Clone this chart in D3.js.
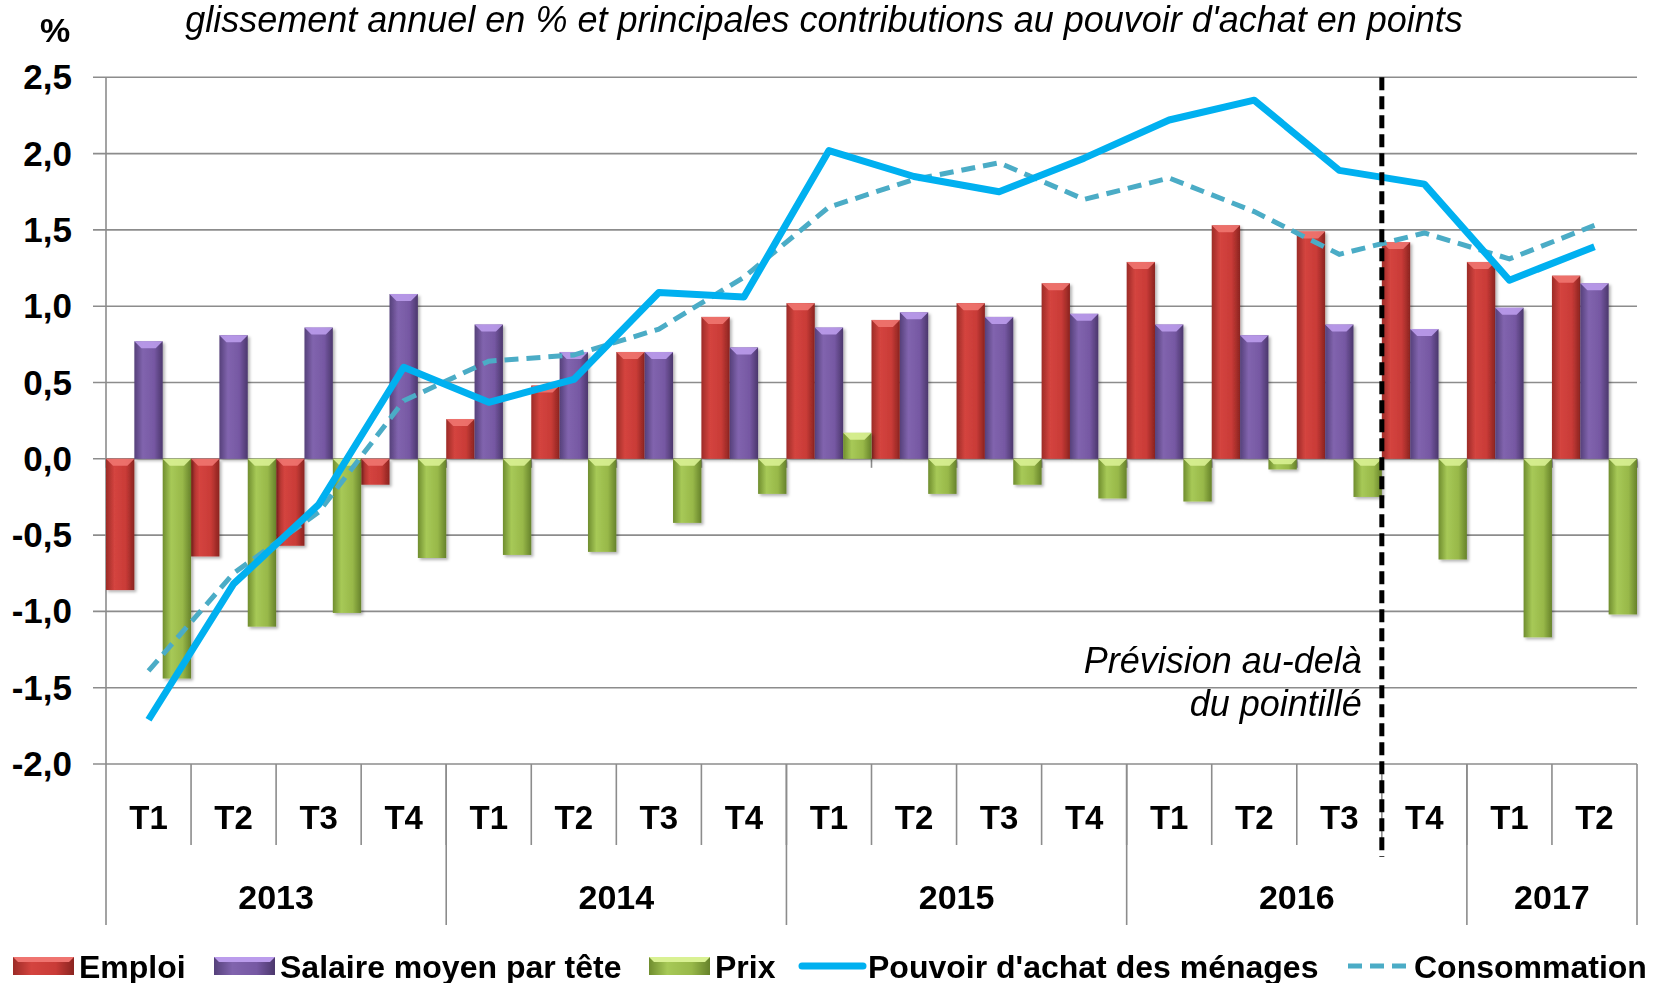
<!DOCTYPE html>
<html>
<head>
  <meta charset="utf-8">
  <script src="https://cdn.jsdelivr.net/npm/d3@7"></script>
  <title>Pouvoir d'achat</title>
  <style>
    body { margin: 0; background: #fff; }
    text { font-family: "Liberation Sans", Arial, sans-serif; fill: #000; }
    .tick-lbl { font-size: 35px; font-weight: bold; }
    .cat-lbl { font-size: 33px; font-weight: bold; }
    .year-lbl { font-size: 34px; font-weight: bold; }
    .legend-lbl { font-size: 32px; font-weight: bold; }
  </style>
</head>
<body>
<svg id="chart" width="1654" height="983"></svg>
<script>
// quarters, 2013 T1 .. 2017 T2
var quarters = ["T1","T2","T3","T4","T1","T2","T3","T4","T1","T2","T3","T4","T1","T2","T3","T4","T1","T2"];
var years = ["2013","2014","2015","2016","2017"];
var yearLength = [4, 4, 4, 4, 2];

var emploi   = [-0.86,-0.64,-0.57,-0.17, 0.26, 0.48, 0.70, 0.93, 1.02, 0.91, 1.02, 1.15, 1.29, 1.53, 1.49, 1.42, 1.29, 1.20];
var salaire  = [ 0.77, 0.81, 0.86, 1.08, 0.88, 0.70, 0.70, 0.73, 0.86, 0.96, 0.93, 0.95, 0.88, 0.81, 0.88, 0.85, 0.99, 1.15];
var prix     = [-1.44,-1.10,-1.01,-0.65,-0.63,-0.61,-0.42,-0.23, 0.17,-0.23,-0.17,-0.26,-0.28,-0.07,-0.25,-0.66,-1.17,-1.02];
var pouvoir  = [-1.71,-0.82,-0.30, 0.60, 0.37, 0.52, 1.09, 1.06, 2.02, 1.85, 1.75, 1.97, 2.22, 2.35, 1.89, 1.80, 1.17, 1.39];
var conso    = [-1.39,-0.75,-0.35, 0.38, 0.64, 0.68, 0.85, 1.19, 1.65, 1.83, 1.94, 1.70, 1.84, 1.62, 1.34, 1.48, 1.31, 1.53];

var yTicks = [-2, -1.5, -1, -0.5, 0, 0.5, 1, 1.5, 2, 2.5];
var forecastStart = 15; // 2016 T4

var svg = d3.select("#chart");
var plotL = 106, plotR = 1637, plotT = 77.3, plotB = 764;

var idx = d3.range(quarters.length);
var x = d3.scaleBand().domain(idx).range([plotL, plotR]).padding(0);
var y = d3.scaleLinear().domain([-2, 2.5]).range([plotB, plotT]);

var fmt = function(v) { return d3.format(".1f")(v).replace(".", ",").replace("−", "-"); };

// gradients for the bevelled bars
var series = [
  {name: "Emploi", values: emploi, stops: ["#9c2b27","#d4443f","#c93b37","#8a2420"], bevel: "#ef7470"},
  {name: "Salaire moyen par tête", values: salaire, stops: ["#55407a","#8164ae","#7658a3","#4b376c"], bevel: "#bb9cec"},
  {name: "Prix", values: prix, stops: ["#6f8d2e","#a7c957","#98b849","#66822a"], bevel: "#d9f193"}
];
var defs = svg.append("defs");
series.forEach(function(s, i) {
  var g = defs.append("linearGradient").attr("id", "grad" + i).attr("x1", "0").attr("x2", "1").attr("y1", "0").attr("y2", "0");
  [0, 0.3, 0.7, 1].forEach(function(o, j) {
    g.append("stop").attr("offset", o).attr("stop-color", s.stops[j]);
  });
});
var f = defs.append("filter").attr("id", "shadow").attr("x", "-20%").attr("y", "-20%").attr("width", "140%").attr("height", "140%");
f.append("feDropShadow").attr("dx", 2).attr("dy", 2).attr("stdDeviation", 1.5).attr("flood-color", "#000").attr("flood-opacity", 0.3);

// gridlines + y axis
svg.append("g").selectAll("line").data(yTicks).join("line")
  .attr("x1", plotL - 13).attr("x2", plotR)
  .attr("y1", function(d) { return y(d); }).attr("y2", function(d) { return y(d); })
  .attr("stroke", "#8c8c8c").attr("stroke-width", 1.6);
svg.append("line").attr("x1", plotL).attr("x2", plotL).attr("y1", plotT).attr("y2", 925)
  .attr("stroke", "#8c8c8c").attr("stroke-width", 1.6);
svg.append("g").selectAll("text").data(yTicks).join("text")
  .attr("class", "tick-lbl").attr("text-anchor", "end")
  .attr("x", 72).attr("y", function(d) { return y(d) + 12; })
  .text(fmt);

// small ticks on the zero line
svg.append("g").selectAll("line").data(d3.range(quarters.length + 1)).join("line")
  .attr("x1", function(i) { return plotL + i * x.bandwidth(); })
  .attr("x2", function(i) { return plotL + i * x.bandwidth(); })
  .attr("y1", y(0)).attr("y2", y(0) + 9)
  .attr("stroke", "#8c8c8c").attr("stroke-width", 1.6);

// bars
var inner = d3.scaleBand().domain([0, 1, 2]).range([0, x.bandwidth()]).padding(0);
series.forEach(function(s, si) {
  var g = svg.append("g").attr("filter", "url(#shadow)");
  s.values.forEach(function(v, i) {
    var bx = x(i) + inner(si), bw = inner.bandwidth();
    var y0 = Math.min(y(v), y(0)), h = Math.abs(y(v) - y(0));
    g.append("rect").attr("x", bx).attr("y", y0).attr("width", bw).attr("height", h)
      .attr("fill", "url(#grad" + si + ")");
    var b = Math.min(7, h / 2);
    g.append("polygon")
      .attr("points", [[bx, y0], [bx + bw, y0], [bx + bw - b, y0 + b], [bx + b, y0 + b]].join(" "))
      .attr("fill", s.bevel).attr("opacity", 0.9);
  });
});

// lines
var line = d3.line().x(function(d, i) { return x(i) + x.bandwidth() / 2; }).y(function(d) { return y(d); });
svg.append("path").datum(conso).attr("d", line).attr("fill", "none")
  .attr("stroke", "#4bacc6").attr("stroke-width", 5).attr("stroke-dasharray", "14,8");
svg.append("path").datum(pouvoir).attr("d", line).attr("fill", "none")
  .attr("stroke", "#00b0f0").attr("stroke-width", 7).attr("stroke-linejoin", "round");

// category axis: quarter and year cells
svg.append("g").selectAll("line").data(d3.range(1, quarters.length)).join("line")
  .attr("x1", function(i) { return plotL + i * x.bandwidth(); })
  .attr("x2", function(i) { return plotL + i * x.bandwidth(); })
  .attr("y1", plotB).attr("y2", 845)
  .attr("stroke", "#8c8c8c").attr("stroke-width", 1.6);
var yearEdges = d3.cumsum(yearLength);
svg.append("g").selectAll("line").data(yearEdges).join("line")
  .attr("x1", function(n) { return plotL + n * x.bandwidth(); })
  .attr("x2", function(n) { return plotL + n * x.bandwidth(); })
  .attr("y1", plotB).attr("y2", 925)
  .attr("stroke", "#8c8c8c").attr("stroke-width", 1.6);
svg.append("g").selectAll("text").data(quarters).join("text")
  .attr("class", "cat-lbl").attr("text-anchor", "middle")
  .attr("x", function(d, i) { return x(i) + x.bandwidth() / 2; }).attr("y", 829)
  .text(function(d) { return d; });
svg.append("g").selectAll("text").data(years).join("text")
  .attr("class", "year-lbl").attr("text-anchor", "middle")
  .attr("x", function(d, i) {
    var start = i ? yearEdges[i - 1] : 0;
    return plotL + (start + yearLength[i] / 2) * x.bandwidth();
  })
  .attr("y", 909)
  .text(function(d) { return d; });

// forecast separator
var fx = x(forecastStart);
svg.append("line").attr("x1", fx).attr("x2", fx).attr("y1", plotT).attr("y2", 857)
  .attr("stroke", "#000").attr("stroke-width", 5).attr("stroke-dasharray", "13,6");
svg.append("text").attr("text-anchor", "end").attr("x", fx - 20).attr("y", 673)
  .style("font-size", "36px").style("font-style", "italic").text("Prévision au-delà");
svg.append("text").attr("text-anchor", "end").attr("x", fx - 20).attr("y", 716)
  .style("font-size", "36px").style("font-style", "italic").text("du pointillé");

// titles
svg.append("text").attr("x", 55).attr("y", 42).attr("text-anchor", "middle")
  .style("font-size", "34px").style("font-weight", "bold").text("%");
svg.append("text").attr("x", 824).attr("y", 32).attr("text-anchor", "middle")
  .style("font-size", "36px").style("font-style", "italic")
  .text("glissement annuel en % et principales contributions au pouvoir d'achat en points");

// legend
var legend = [
  {label: "Emploi", type: "bar", s: 0, x: 13},
  {label: "Salaire moyen par tête", type: "bar", s: 1, x: 214},
  {label: "Prix", type: "bar", s: 2, x: 649},
  {label: "Pouvoir d'achat des ménages", type: "line", x: 802},
  {label: "Consommation", type: "dash", x: 1348}
];
var ly = 966;
legend.forEach(function(d) {
  var g = svg.append("g");
  if (d.type == "bar") {
    g.append("rect").attr("x", d.x).attr("y", ly - 9).attr("width", 61).attr("height", 18)
      .attr("fill", "url(#grad" + d.s + ")");
    g.append("polygon")
      .attr("points", [[d.x, ly - 9], [d.x + 61, ly - 9], [d.x + 56, ly - 4], [d.x + 5, ly - 4]].join(" "))
      .attr("fill", series[d.s].bevel);
  } else if (d.type == "line") {
    g.append("line").attr("x1", d.x).attr("x2", d.x + 61).attr("y1", ly).attr("y2", ly)
      .attr("stroke", "#00b0f0").attr("stroke-width", 7).attr("stroke-linecap", "round");
  } else {
    g.append("line").attr("x1", d.x).attr("x2", d.x + 58).attr("y1", ly).attr("y2", ly)
      .attr("stroke", "#4bacc6").attr("stroke-width", 5).attr("stroke-dasharray", "14,8");
  }
  g.append("text").attr("class", "legend-lbl").attr("x", d.x + 66).attr("y", ly + 12)
    .text(d.label);
});
</script>
</body>
</html>
